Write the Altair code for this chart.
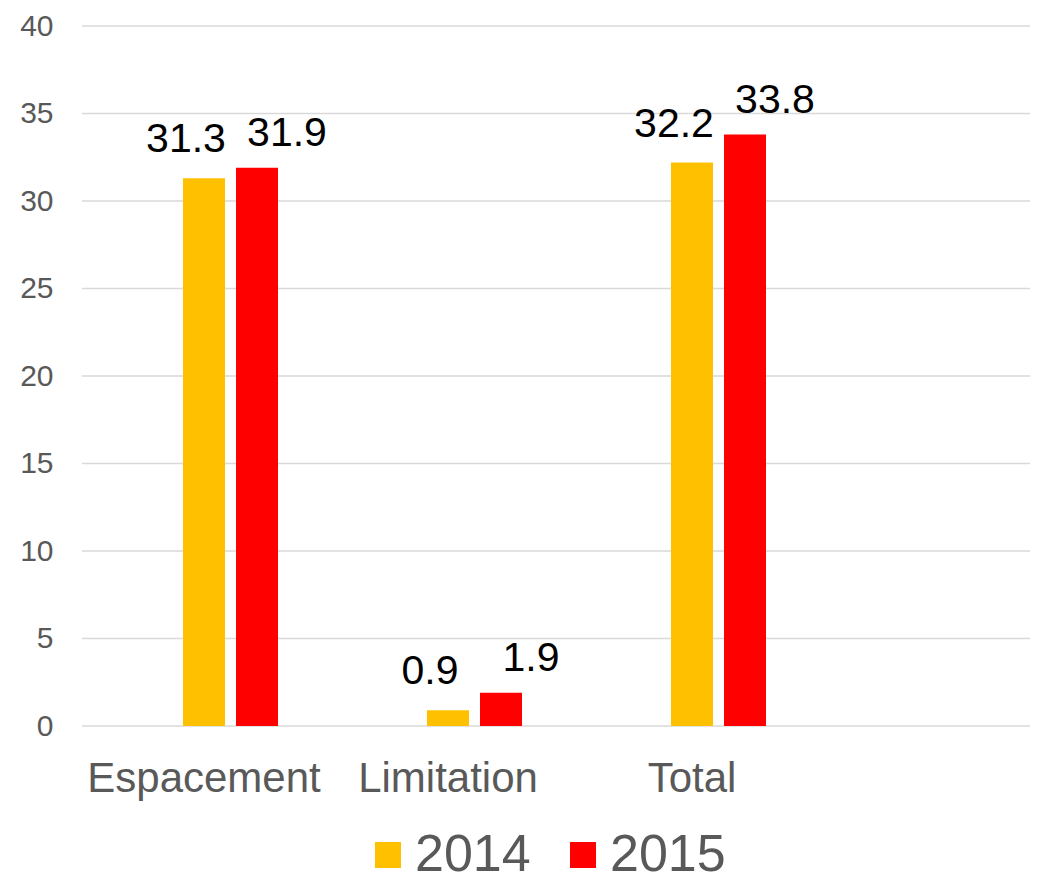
import altair as alt
import pandas as pd

categories = ["Espacement", "Limitation", "Total"]
years = ["2014", "2015"]
values_2014 = [31.3, 0.9, 32.2]
values_2015 = [31.9, 1.9, 33.8]
y_ticks = [0, 5, 10, 15, 20, 25, 30, 35, 40]

rows = []
for c, v in zip(categories, values_2014):
    rows.append({"cat": c, "year": "2014", "value": v})
for c, v in zip(categories, values_2015):
    rows.append({"cat": c, "year": "2015", "value": v})
df = pd.DataFrame(rows)
grid_df = pd.DataFrame({"value": y_ticks})

FONT = "Liberation Sans"
GRAY = "#595959"

x_enc = alt.X("cat:N", sort=categories,
              scale=alt.Scale(domain=categories, range=[0, 732], paddingInner=0, paddingOuter=0),
              axis=alt.Axis(title=None, labelAngle=0, ticks=False, domain=False, grid=False,
                            labelFontSize=42, labelColor=GRAY, labelFont=FONT,
                            labelPadding=32, labelLimit=400))
xo_enc = alt.XOffset("year:N",
                     scale=alt.Scale(domain=years, range=[101, 196], paddingInner=0.2075, paddingOuter=0))
y_scale = alt.Scale(domain=[0, 40], nice=False)
y_axis = alt.Axis(title=None, values=y_ticks, ticks=False, domain=False, grid=False,
                  labelFontSize=30, labelColor=GRAY, labelFont=FONT, labelPadding=29)
y_enc = alt.Y("value:Q", scale=y_scale, axis=y_axis)

grid = alt.Chart(grid_df).mark_rule(color="#d9d9d9", strokeWidth=1.5).encode(
    y=y_enc,
    x=alt.value(0), x2=alt.value(948),
)

bars = alt.Chart(df).mark_bar().encode(
    x=x_enc, xOffset=xo_enc, y=y_enc,
    color=alt.Color("year:N", scale=alt.Scale(domain=years, range=["#FFC000", "#FF0000"]),
                    legend=alt.Legend(title=None, orient="none", direction="horizontal",
                                      legendX=280, legendY=803,
                                      symbolType="square", symbolSize=676,
                                      symbolStrokeWidth=0, labelFontSize=52,
                                      labelColor=GRAY, labelFont=FONT,
                                      labelOffset=1, columnPadding=26)),
)

def labels(year, dx, dy):
    return alt.Chart(df).transform_filter(alt.datum.year == year).mark_text(
        fontSize=41, font=FONT, color="black", baseline="alphabetic", dy=dy, dx=dx
    ).encode(x=x_enc, xOffset=xo_enc, y=y_enc, text=alt.Text("value:Q", format=".1f"))

chart = alt.layer(grid, bars, labels("2014", -18, -26), labels("2015", 30, -21.5)).properties(
    width=948, height=700,
    autosize=alt.AutoSizeParams(type="none"),
    padding={"left": 74, "top": 18, "right": 0, "bottom": 148},
).configure(background="white").configure_view(stroke=None)

chart.save("out.html", embed_options={"renderer": "svg", "actions": False})
